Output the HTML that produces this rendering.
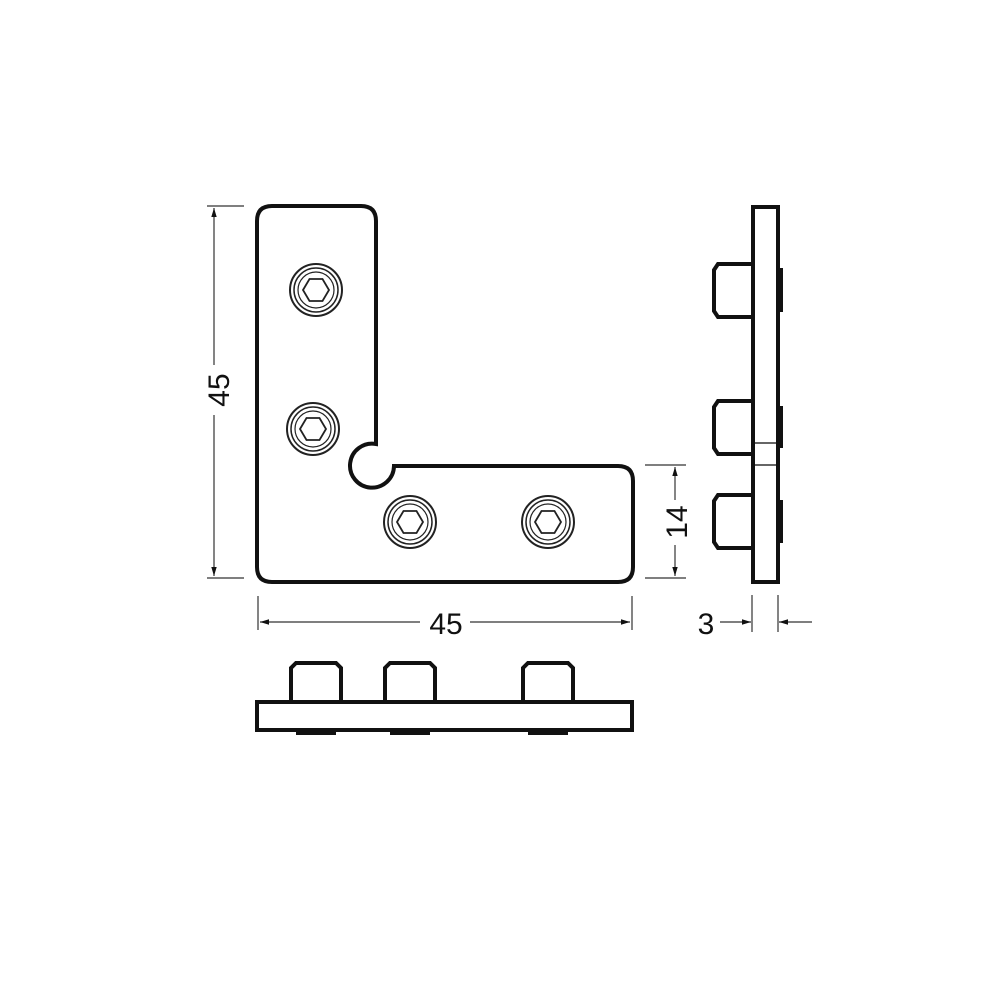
<!DOCTYPE html>
<html><head><meta charset="utf-8"><style>body{margin:0;background:#fff}svg{display:block}</style></head><body>
<svg width="1000" height="1000" viewBox="0 0 1000 1000" xmlns="http://www.w3.org/2000/svg">
<defs>
<marker id="a" viewBox="0 0 10 10" refX="10" refY="5" markerWidth="9" markerHeight="9" markerUnits="userSpaceOnUse" orient="auto-start-reverse"><path d="M0,2 L10,5 L0,8z" fill="#111"/></marker>
<g id="h" fill="none" stroke="#222">
<circle r="26" stroke-width="2"/><circle r="22" stroke-width="1.5"/><circle r="18" stroke-width="1.2"/>
<polygon points="-13,0 -6.5,-11 6.5,-11 13,0 6.5,11 -6.5,11" stroke-width="1.8"/>
</g>
</defs>
<path d="M272,206 H361 Q376,206 376,221 V444 A22,22 0 1 0 394,466 H618 Q633,466 633,481 V567 Q633,582 618,582 H272 Q257,582 257,567 V221 Q257,206 272,206Z" fill="none" stroke="#111" stroke-width="4"/>
<use href="#h" x="316" y="290"/><use href="#h" x="313" y="429"/><use href="#h" x="410" y="522"/><use href="#h" x="548" y="522"/>
<!-- side view -->
<g stroke="#111" stroke-width="4" fill="none">
<rect x="753" y="207" width="25" height="375"/>
<path d="M753,264 H718 L714,270 V311 L718,317 H753"/>
<path d="M753,401 H718 L714,407 V448 L718,454 H753"/>
<path d="M753,495 H718 L714,501 V542 L718,548 H753"/>
<path d="M780,268 V312 M780,406 V448 M780,500 V543" stroke-width="6"/>
</g>
<path d="M755,443 H776 M755,465 H776" stroke="#333" stroke-width="1.5"/>
<!-- bottom view -->
<g stroke="#111" stroke-width="4" fill="none">
<rect x="257" y="702" width="375" height="28"/>
<path d="M291,702 V668 L296,663 H336 L341,668 V702"/>
<path d="M385,702 V668 L390,663 H430 L435,668 V702"/>
<path d="M523,702 V668 L528,663 H568 L573,668 V702"/>
<path d="M296,732 H336 M390,732 H430 M528,732 H568" stroke-width="6"/>
</g>
<!-- dimensions -->
<g stroke="#333" stroke-width="1.2" fill="none">
<path d="M207,206 H244 M207,578 H244"/>
<path d="M214,365 V208" marker-end="url(#a)"/><path d="M214,415 V576" marker-end="url(#a)"/>
<path d="M258,596 V630 M632,596 V630"/>
<path d="M420,622 H260" marker-end="url(#a)"/><path d="M470,622 H630" marker-end="url(#a)"/>
<path d="M645,465 H686 M645,578 H686"/>
<path d="M675,500 V467" marker-end="url(#a)"/><path d="M675,545 V576" marker-end="url(#a)"/>
<path d="M752,595 V632 M778,595 V632"/>
<path d="M720,622 H751" marker-end="url(#a)"/><path d="M812,622 H779" marker-end="url(#a)"/>
</g>
<g font-family="Liberation Sans, sans-serif" font-size="30" fill="#111" text-anchor="middle">
<text x="446" y="634">45</text>
<text x="706" y="634">3</text>
<text transform="translate(229,390) rotate(-90)">45</text>
<text transform="translate(687,522) rotate(-90)">14</text>
</g>
</svg>
</body></html>
